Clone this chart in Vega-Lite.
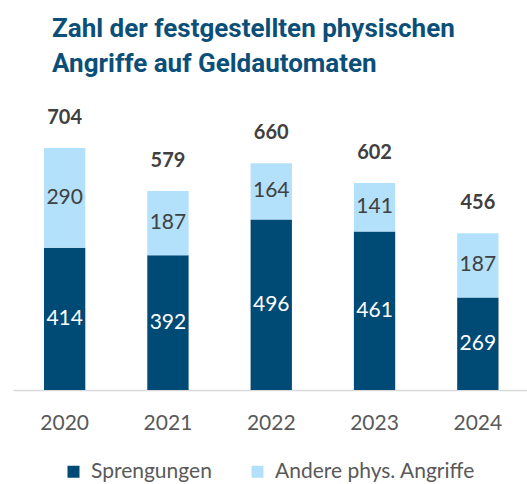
{
  "$schema": "https://vega.github.io/schema/vega-lite/v6.json",
  "width": 516.5,
  "height": 275,
  "autosize": "none",
  "padding": {"left": 13, "top": 115, "right": 0, "bottom": 94},
  "config": {"view": {"stroke": null}, "font": "Lato"},
  "title": {
    "text": ["Zahl der festgestellten physischen", "Angriffe auf Geldautomaten"],
    "anchor": "start",
    "frame": "group",
    "fontSize": 26,
    "font": "Roboto",
    "fontWeight": "bold",
    "color": "#0b4f78",
    "lineHeight": 35,
    "dx": 39,
    "offset": 31
  },
  "data": {
    "values": [
      {"year": "2020", "type": "Sprengungen", "value": 414},
      {"year": "2020", "type": "Andere phys. Angriffe", "value": 290},
      {"year": "2021", "type": "Sprengungen", "value": 392},
      {"year": "2021", "type": "Andere phys. Angriffe", "value": 187},
      {"year": "2022", "type": "Sprengungen", "value": 496},
      {"year": "2022", "type": "Andere phys. Angriffe", "value": 164},
      {"year": "2023", "type": "Sprengungen", "value": 461},
      {"year": "2023", "type": "Andere phys. Angriffe", "value": 141},
      {"year": "2024", "type": "Sprengungen", "value": 269},
      {"year": "2024", "type": "Andere phys. Angriffe", "value": 187}
    ]
  },
  "encoding": {
    "x": {
      "field": "year",
      "type": "nominal",
      "scale": {"paddingInner": 0.6, "paddingOuter": 0.3},
      "axis": {
        "title": null,
        "labelAngle": 0,
        "ticks": false,
        "labelFontSize": 21,
        "labelColor": "#595959",
        "labelPadding": 22,
        "domainColor": "#d9d9d9",
        "domainWidth": 1.5
      }
    }
  },
  "layer": [
    {
      "mark": {"type": "bar"},
      "encoding": {
        "y": {"field": "value", "type": "quantitative", "stack": "zero", "scale": {"domain": [0, 800], "nice": false}, "axis": null},
        "color": {
          "field": "type",
          "type": "nominal",
          "scale": {"domain": ["Sprengungen", "Andere phys. Angriffe"], "range": ["#004a76", "#b3e0fa"]},
          "legend": {
            "title": null,
            "orient": "none",
            "direction": "horizontal",
            "legendX": 50,
            "legendY": 346,
            "padding": 0,
            "symbolType": "square",
            "symbolSize": 144,
            "symbolStrokeWidth": 0,
            "labelFontSize": 21,
            "labelLimit": 400,
            "labelColor": "#595959",
            "labelOffset": 7,
            "columnPadding": 35
          }
        },
        "order": {"field": "type", "sort": "descending"}
      }
    },
    {
      "mark": {"type": "text", "fontSize": 21, "baseline": "middle"},
      "encoding": {
        "y": {"field": "value", "type": "quantitative", "stack": "zero", "bandPosition": 0.5},
        "text": {"field": "value", "type": "quantitative"},
        "order": {"field": "type", "sort": "descending"},
        "color": {"condition": {"test": "datum.type === 'Sprengungen'", "value": "white"}, "value": "#404040"}
      }
    },
    {
      "mark": {"type": "text", "fontSize": 20, "fontWeight": "bold", "baseline": "alphabetic", "dy": -24, "color": "#404040"},
      "encoding": {
        "y": {"aggregate": "sum", "field": "value", "type": "quantitative", "stack": null},
        "text": {"aggregate": "sum", "field": "value", "type": "quantitative"}
      }
    }
  ]
}
